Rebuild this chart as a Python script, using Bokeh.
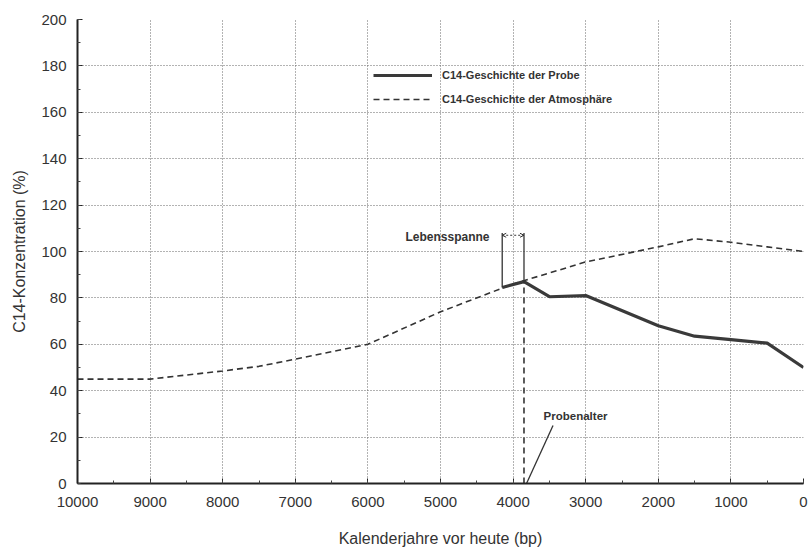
from bokeh.plotting import figure
from bokeh.models import Range1d, FixedTicker, Legend, LegendItem, Label, Arrow, OpenHead
from bokeh.embed import file_html
from bokeh.resources import INLINE

# ---- data ----
years_atm = [10000, 9000, 8000, 7500, 7000, 6000, 5000, 4000, 3000, 2000, 1500, 1000, 500, 0]
c14_atm = [45, 45, 48.5, 50.5, 53.6, 60, 74, 86, 95.5, 102, 105.5, 104, 102, 100]

years_probe = [4150, 3850, 3500, 3000, 2000, 1500, 1000, 500, 0]
c14_probe = [84.5, 87, 80.5, 81, 68, 63.5, 62, 60.5, 50]

life_start = 4150
life_end = 3850
life_top = 108
sample_age = 3850
sample_c14 = 87

x_ticks = list(range(0, 10001, 1000))
x_minor = list(range(0, 10001, 500))
y_ticks = list(range(0, 201, 20))
y_minor = list(range(0, 201, 10))

label_probe = "C14-Geschichte der Probe"
label_atm = "C14-Geschichte der Atmosphäre"
text_life = "Lebensspanne"
text_age = "Probenalter"

FONT = "Liberation Sans"
INK = "#333333"

p = figure(width=808, height=549, output_backend="svg", toolbar_location=None,
           x_range=Range1d(10000, 0), y_range=Range1d(0, 200),
           min_border_left=77, min_border_right=5, min_border_top=19, min_border_bottom=65)
p.outline_line_color = None

# axes
for ax in (p.xaxis, p.yaxis):
    ax.axis_line_color = "#222222"
    ax.axis_line_width = 2
    ax.major_tick_in = 5
    ax.major_tick_out = 0
    ax.minor_tick_in = 3
    ax.minor_tick_out = 0
    ax.major_tick_line_color = "#222222"
    ax.minor_tick_line_color = "#444444"
    ax.major_label_text_font = FONT
    ax.major_label_text_font_size = "15px"
    ax.major_label_text_color = INK
    ax.axis_label_text_font = FONT
    ax.axis_label_text_font_size = "16px"
    ax.axis_label_text_font_style = "normal"
    ax.axis_label_text_color = INK

p.xaxis.ticker = FixedTicker(ticks=x_ticks, minor_ticks=x_minor)
p.yaxis.ticker = FixedTicker(ticks=y_ticks, minor_ticks=y_minor)
p.xaxis.axis_label = "Kalenderjahre vor heute (bp)"
p.yaxis.axis_label = "C14-Konzentration (%)"
p.xaxis.major_label_standoff = 13
p.yaxis.major_label_standoff = 11
p.xaxis.axis_label_standoff = 20
p.yaxis.axis_label_standoff = 10

p.xgrid.ticker = FixedTicker(ticks=x_ticks)
p.ygrid.ticker = FixedTicker(ticks=y_ticks)
for g in (p.xgrid, p.ygrid):
    g.grid_line_color = "#666666"
    g.grid_line_dash = "1 2"
    g.grid_line_width = 1

# series
r_atm = p.line(years_atm, c14_atm, line_color=INK, line_width=1.6, line_dash="6 4")
r_probe = p.line(years_probe, c14_probe, line_color="#3a3a3a", line_width=3.2)

# lifespan bracket
p.segment(x0=[life_start, life_end], y0=[c14_probe[0], c14_probe[1]],
          x1=[life_start, life_end], y1=[life_top, life_top], line_color=INK, line_width=1.3)
p.add_layout(Arrow(start=OpenHead(size=4, line_color=INK, line_width=1),
                   end=OpenHead(size=4, line_color=INK, line_width=1),
                   x_start=life_start, x_end=life_end, y_start=life_top - 1, y_end=life_top - 1,
                   line_color=INK, line_width=1, line_dash="2 2"))
p.add_layout(Label(x=5482, y=106.4, text=text_life, text_font=FONT, text_font_size="12px",
                   text_font_style="bold", text_color=INK, text_baseline="middle"))

# sample age
p.segment(x0=[sample_age], y0=[0], x1=[sample_age], y1=[sample_c14],
          line_color=INK, line_width=1.6, line_dash="6 4")
p.segment(x0=[3450], y0=[25], x1=[3815], y1=[0], line_color=INK, line_width=1.3)
p.add_layout(Label(x=3580, y=29.2, text=text_age, text_font=FONT, text_font_size="11.5px",
                   text_font_style="bold", text_color=INK, text_baseline="middle"))

legend = Legend(items=[LegendItem(label=label_probe, renderers=[r_probe]),
                       LegendItem(label=label_atm, renderers=[r_atm])],
                location=(296, 374), glyph_width=59, glyph_height=20, spacing=4,
                padding=0, margin=0, border_line_color=None, background_fill_alpha=0,
                label_standoff=10, label_text_font=FONT, label_text_font_size="11px",
                label_text_font_style="bold", label_text_color=INK)
p.add_layout(legend)

open("out.html", "w").write(file_html(p, INLINE))
